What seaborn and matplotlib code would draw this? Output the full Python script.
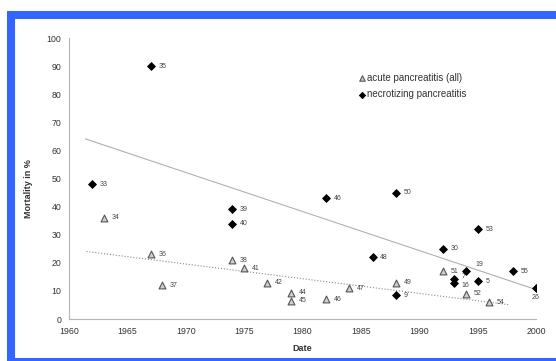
import numpy as np
import matplotlib
matplotlib.use("Agg")
import matplotlib.pyplot as plt
from matplotlib.patches import Rectangle
import seaborn as sns

# Acute pancreatitis (all): publication year, mortality %, reference number
acute_year = [1963, 1967, 1968, 1974, 1975, 1977, 1979, 1979, 1982, 1984, 1988, 1992, 1994, 1996]
acute_mortality = [36, 23, 12, 21, 18, 13, 9.4, 6.5, 7, 11, 13, 17, 9, 6]
acute_ref = ["34", "36", "37", "38", "41", "42", "44", "45", "46", "47", "49", "51", "52", "54"]

# Necrotizing pancreatitis: publication year, mortality %, reference number
necro_year = [1962, 1967, 1974, 1974, 1982, 1986, 1988, 1988, 1992, 1993, 1993, 1994, 1995, 1995, 1998, 2000]
necro_mortality = [48, 90, 39, 34, 43, 22, 45, 8.5, 25, 14.3, 12.8, 17, 32, 13.5, 17, 11]
necro_ref = ["33", "35", "39", "40", "46", "48", "50", "9", "30", "7", "16", "19", "53", "5", "55", "26"]

x_ticks = [1960, 1965, 1970, 1975, 1980, 1985, 1990, 1995, 2000]
y_ticks = [0, 10, 20, 30, 40, 50, 60, 70, 80, 90, 100]

# year range covered by each linear trend line
acute_trend_span = (1961.5, 1997.7)
necro_trend_span = (1961.4, 2000.0)

# reference labels that sit somewhere other than straight to the right of their point
label_offsets = {"19": (7, 5, "left"), "26": (0, -7, "center"),
                 "7": (5, 1.5, "left"), "16": (5, -2, "left")}

sns.set_theme(style="white")
plt.rcParams["font.family"] = ["Liberation Sans", "DejaVu Sans"]

fig = plt.figure(figsize=(5.56, 3.61), dpi=100)
ax = fig.add_axes([0.1241, 0.1163, 0.840, 0.778])

# linear trends
for yrs, vals, span, ls, col in [
    (acute_year, acute_mortality, acute_trend_span, ":", "#8a8a8a"),
    (necro_year, necro_mortality, necro_trend_span, "-", "#b0b0b0"),
]:
    slope, intercept = np.polyfit(yrs, vals, 1)
    xs = np.linspace(span[0], span[1], 50)
    sns.lineplot(x=xs, y=slope * xs + intercept, ax=ax, color=col,
                 linestyle=ls, linewidth=0.8, legend=False)

sns.scatterplot(x=acute_year, y=acute_mortality, ax=ax, marker="^", s=24,
                color="#cfcfcf", edgecolor="#555555", linewidth=0.8,
                label="acute pancreatitis (all)", zorder=3)
sns.scatterplot(x=necro_year, y=necro_mortality, ax=ax, marker="D", s=16,
                color="black", edgecolor="black", linewidth=0.6,
                label="necrotizing pancreatitis", zorder=4)

for yrs, vals, refs in [(acute_year, acute_mortality, acute_ref),
                        (necro_year, necro_mortality, necro_ref)]:
    for xv, yv, r in zip(yrs, vals, refs):
        dx, dy, ha = label_offsets.get(r, (5.5, 0, "left"))
        ax.annotate(r, (xv, yv), xytext=(dx, dy), textcoords="offset points",
                    ha=ha, va="center", fontsize=5, color="#444444")

ax.set_xlim(1960, 2000)
ax.set_ylim(0, 100)
ax.set_xticks(x_ticks)
ax.set_yticks(y_ticks)
ax.tick_params(axis="both", direction="in", length=2.5, width=0.6,
               color="#999999", labelsize=6.3, labelcolor="#333333", pad=5.5)

for side in ["top", "right"]:
    ax.spines[side].set_visible(False)
for side in ["left", "bottom"]:
    ax.spines[side].set_color("#b5b5b5")
    ax.spines[side].set_linewidth(0.8)

ax.set_xlabel("Date", fontsize=6.5, fontweight="bold", color="#333333", labelpad=6)
ax.set_ylabel("Mortality in %", fontsize=6.5, fontweight="bold", color="#333333")
ax.yaxis.set_label_coords(-0.077, 0.466)

ax.legend(loc="upper left", bbox_to_anchor=(0.61, 0.895), frameon=False,
          fontsize=7, handlelength=0.6, handletextpad=0.25, labelspacing=0.7,
          borderpad=0, markerscale=0.8, labelcolor="#333333")

# blue frame around the figure
fig.patches.append(Rectangle((0.0198, -0.002), 1.05, 0.960, transform=fig.transFigure,
                             fill=False, edgecolor="#3366ff", linewidth=5.8,
                             clip_on=False))

fig.savefig("out.png", dpi=100)
